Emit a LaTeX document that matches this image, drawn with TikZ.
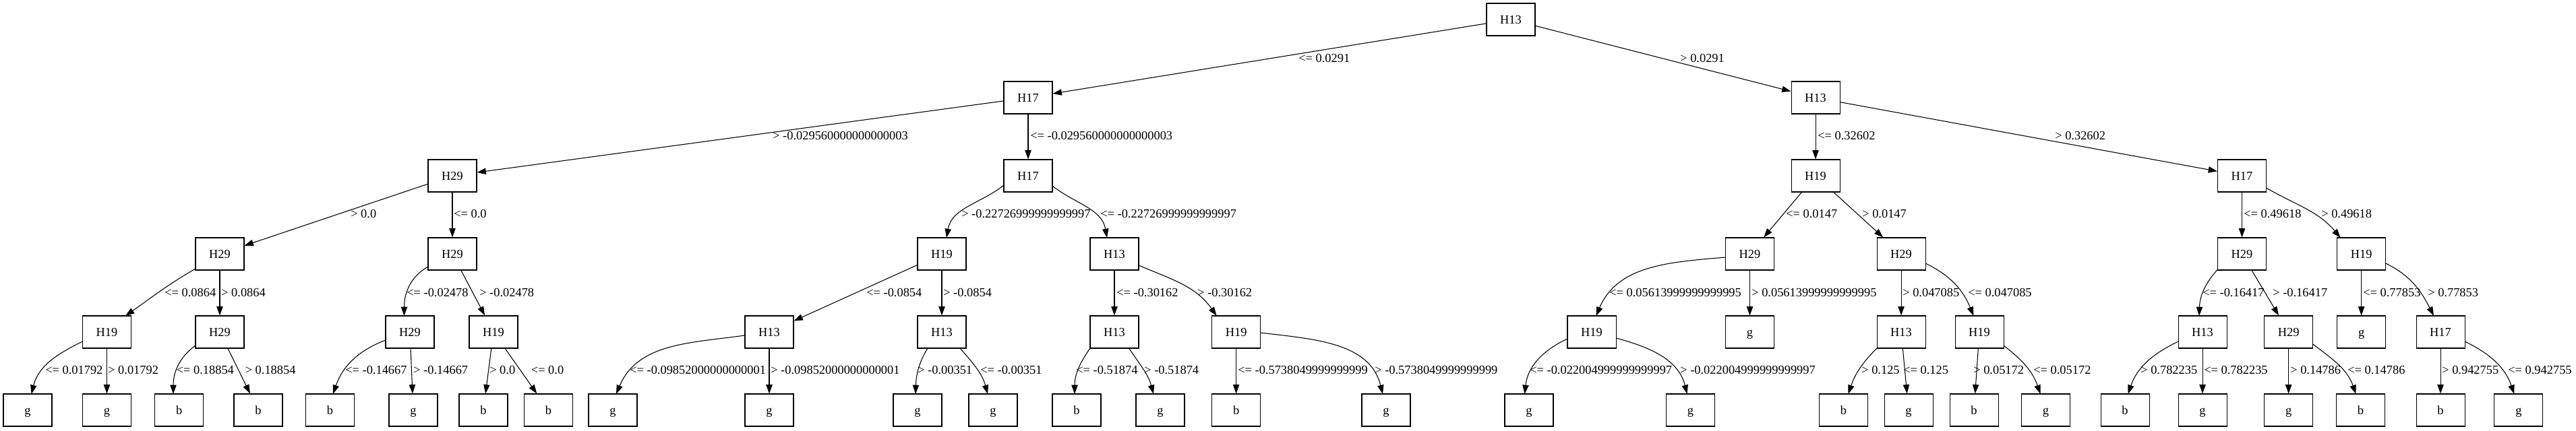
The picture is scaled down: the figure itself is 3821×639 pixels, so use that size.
\documentclass[tikz,border=0pt]{standalone}
\usepackage{fontspec}
\setmainfont{Liberation Serif}
\usetikzlibrary{arrows.meta,calc}
\newcommand{\cedge}[6]{\draw[conn] ($(#1)+(#2)$) to[out=#3,in=#4] ($(#5)+(#6)$);}
\begin{document}
\begin{tikzpicture}[x=0.75pt,y=-0.75pt,
  tbox/.style={draw, line width=0.8pt, rectangle, minimum width=54pt, minimum height=36pt, inner sep=0pt, text height=9.2pt, text depth=0pt, font=\fontsize{13.8}{17}\selectfont},
  lbl/.style={anchor=base west, inner sep=0pt, font=\fontsize{13.8}{17}\selectfont},
  conn/.style={line width=0.8pt, -{Triangle[length=10pt,width=7pt]}}]
\useasboundingbox (0,0) rectangle (3821,639);
% level 1-3
\node[tbox] (n0) at (2241,29) {H13};
\node[tbox] (n1) at (1525,145) {H17};
\node[tbox] (n2) at (2693,145) {H13};
\node[tbox] (n3) at (671,261) {H29};
\node[tbox] (n4) at (1525,261) {H17};
\node[tbox] (n5) at (2693,261) {H19};
\node[tbox] (n6) at (3325.5,261) {H17};
% level 4
\node[tbox] (n7) at (326,377) {H29};
\node[tbox] (n8) at (671,377) {H29};
\node[tbox] (n9) at (1397,377) {H19};
\node[tbox] (n10) at (1653,377) {H13};
\node[tbox] (n11) at (2595.5,377) {H29};
\node[tbox] (n12) at (2820,377) {H29};
\node[tbox] (n13) at (3325.5,377) {H29};
\node[tbox] (n14) at (3502.6,377) {H19};
% level 5
\node[tbox] (n15) at (158.5,493) {H19};
\node[tbox] (n16) at (326,493) {H29};
\node[tbox] (n17) at (608,493) {H29};
\node[tbox] (n18) at (732,493) {H19};
\node[tbox] (n19) at (1141,493) {H13};
\node[tbox] (n20) at (1397,493) {H13};
\node[tbox] (n21) at (1653,493) {H13};
\node[tbox] (n22) at (1833.6,493) {H19};
\node[tbox] (n23) at (2361,493) {H19};
\node[tbox] (n24) at (2595.5,493) {g};
\node[tbox] (n25) at (2820,493) {H13};
\node[tbox] (n26) at (2936,493) {H19};
\node[tbox] (n27) at (3267,493) {H13};
\node[tbox] (n28) at (3394.6,493) {H29};
\node[tbox] (n29) at (3502.6,493) {g};
\node[tbox] (n30) at (3620,493) {H17};
% leaves
\node[tbox] (l1) at (41,609) {g};
\node[tbox] (l2) at (158.5,609) {g};
\node[tbox] (l3) at (265.6,609) {b};
\node[tbox] (l4) at (383,609) {b};
\node[tbox] (l5) at (489.5,609) {b};
\node[tbox] (l6) at (613,609) {g};
\node[tbox] (l7) at (717,609) {b};
\node[tbox] (l8) at (813.5,609) {b};
\node[tbox] (l9) at (909,609) {g};
\node[tbox] (l10) at (1141,609) {g};
\node[tbox] (l11) at (1361,609) {g};
\node[tbox] (l12) at (1473,609) {g};
\node[tbox] (l13) at (1597,609) {b};
\node[tbox] (l14) at (1721,609) {g};
\node[tbox] (l15) at (1833.6,609) {b};
\node[tbox] (l16) at (2056,609) {g};
\node[tbox] (l17) at (2268,609) {g};
\node[tbox] (l18) at (2507.5,609) {g};
\node[tbox] (l19) at (2734.5,609) {b};
\node[tbox] (l20) at (2831,609) {g};
\node[tbox] (l21) at (2928,609) {b};
\node[tbox] (l22) at (3034.5,609) {g};
\node[tbox] (l23) at (3152,609) {b};
\node[tbox] (l24) at (3267,609) {g};
\node[tbox] (l25) at (3394.6,609) {g};
\node[tbox] (l26) at (3501.4,609) {b};
\node[tbox] (l27) at (3620,609) {b};
\node[tbox] (l28) at (3735.8,609) {g};
% straight connectors
\foreach \a/\b in {n0/n1,n0/n2,n1/n3,n1/n4,n2/n5,n2/n6,n3/n7,n3/n8,n5/n11,n5/n12,n6/n13,n7/n16,n8/n18,n9/n19,n9/n20,n10/n21,n11/n24,n12/n25,n13/n28,n14/n29,n15/l2,n16/l4,n17/l6,n18/l7,n18/l8,n19/l10,n22/l15,n25/l20,n26/l21,n27/l24,n28/l25,n30/l27}
  {\draw[conn] (\a) -- (\b);}
% curved connectors
\cedge{n4}{-36,14}{218}{80}{n9}{7,-24}
\cedge{n4}{36,15}{-38}{100}{n10}{-11,-24}
\cedge{n6}{36,18}{-30}{130}{n14}{-31,-24}
\cedge{n7}{-36,22}{210}{35}{n15}{27.5,-24}
\cedge{n8}{-36,19}{209}{90}{n17}{-8.5,-24}
\cedge{n10}{36,17}{-23}{125}{n22}{-29,-24}
\cedge{n11}{-36,5}{185}{67}{n23}{6.5,-24}
\cedge{n12}{36,14}{-26}{112}{n26}{-8.6,-24}
\cedge{n13}{-36,23}{228}{88}{n27}{-5,-24}
\cedge{n14}{36,14}{-26}{117}{n30}{-10,-24}
\cedge{n15}{-36,14}{206}{76}{l1}{5.6,-24}
\cedge{n16}{-36,20}{216}{90}{l3}{-8.6,-24}
\cedge{n17}{-36,12}{201}{71}{l5}{4.5,-24}
\cedge{n19}{-36,5}{188}{67}{l9}{5,-24}
\cedge{n20}{-21,24}{239}{88}{l11}{-3,-24}
\cedge{n20}{27,24}{-49}{105}{l12}{-8,-24}
\cedge{n21}{-36,24}{235}{90}{l13}{-3,-24}
\cedge{n21}{21.5,24}{-56}{105}{l14}{-10,-24}
\cedge{n22}{36,1}{-7}{104}{l16}{-5,-24}
\cedge{n23}{-36,10}{205}{84}{l17}{-6.4,-24}
\cedge{n23}{36,9}{-15}{104}{l18}{-5,-24}
\cedge{n25}{-36,24}{225}{71}{l19}{7,-24}
\cedge{n26}{36,20}{-38}{109}{l22}{-8,-24}
\cedge{n27}{-36,14}{206}{71}{l23}{4.5,-24}
\cedge{n28}{36,18}{-37}{109}{l26}{-7,-24}
\cedge{n30}{36,14}{-26}{109}{l28}{-6.5,-24}
% labels
\node[lbl] (t1) at (1926,92.5) {<= 0.0291};
\node[lbl] (t2) at (2492,92.5) {> 0.0291};
\node[lbl] (t3) at (1146,207.5) {> -0.029560000000000003};
\node[lbl] (t4) at (1528,207.5) {<= -0.029560000000000003};
\node[lbl] (t7) at (2696,207.5) {<= 0.32602};
\node[lbl] (t8) at (3048,207.5) {> 0.32602};
\node[lbl] (t9) at (520,323.5) {> 0.0};
\node[lbl] (t10) at (673,323.5) {<= 0.0};
\node[lbl] (t5) at (1426,323.5) {> -0.22726999999999997};
\node[lbl] (t6) at (1632,323.5) {<= -0.22726999999999997};
\node[lbl] (t11) at (2649,323.5) {<= 0.0147};
\node[lbl] (t12) at (2762,323.5) {> 0.0147};
\node[lbl] (t13) at (3328,323.5) {<= 0.49618};
\node[lbl] (t14) at (3443,323.5) {> 0.49618};
\node[lbl] (t15) at (244,440) {<= 0.0864};
\node[lbl] (t16) at (328,440) {> 0.0864};
\node[lbl] (t17) at (603,440) {<= -0.02478};
\node[lbl] (t18) at (711,440) {> -0.02478};
\node[lbl] (t19) at (1285,440) {<= -0.0854};
\node[lbl] (t20) at (1399,440) {> -0.0854};
\node[lbl] (t21) at (1656,440) {<= -0.30162};
\node[lbl] (t22) at (1776,440) {> -0.30162};
\node[lbl] (t23) at (2387,440) {<= 0.05613999999999995};
\node[lbl] (t24) at (2598,440) {> 0.05613999999999995};
\node[lbl] (t25) at (2822,440) {> 0.047085};
\node[lbl] (t26) at (2919,440) {<= 0.047085};
\node[lbl] (t27) at (3267,440) {<= -0.16417};
\node[lbl] (t28) at (3371,440) {> -0.16417};
\node[lbl] (t29) at (3505,440) {<= 0.77853};
\node[lbl] (t30) at (3601,440) {> 0.77853};
\node[lbl] (t31) at (67,555.7) {<= 0.01792};
\node[lbl] (t32) at (160,555.7) {> 0.01792};
\node[lbl] (t33) at (261.5,555.7) {<= 0.18854};
\node[lbl] (t34) at (363.5,555.7) {> 0.18854};
\node[lbl] (t35) at (512,555.7) {<= -0.14667};
\node[lbl] (t36) at (613,555.7) {> -0.14667};
\node[lbl] (t37) at (726,555.7) {> 0.0};
\node[lbl] (t38) at (787.6,555.7) {<= 0.0};
\node[lbl] (t39) at (934,555.7) {<= -0.09852000000000001};
\node[lbl] (t40) at (1143,555.7) {> -0.09852000000000001};
\node[lbl] (t41) at (1361,555.7) {> -0.00351};
\node[lbl] (t42) at (1454,555.7) {<= -0.00351};
\node[lbl] (t43) at (1596,555.7) {<= -0.51874};
\node[lbl] (t44) at (1697,555.7) {> -0.51874};
\node[lbl] (t45) at (1836,555.7) {<= -0.5738049999999999};
\node[lbl] (t46) at (2039,555.7) {> -0.5738049999999999};
\node[lbl] (t47) at (2269,555.7) {<= -0.022004999999999997};
\node[lbl] (t48) at (2492,555.7) {> -0.022004999999999997};
\node[lbl] (t49) at (2761,555.7) {> 0.125};
\node[lbl] (t50) at (2823,555.7) {<= 0.125};
\node[lbl] (t51) at (2927,555.7) {> 0.05172};
\node[lbl] (t52) at (3016,555.7) {<= 0.05172};
\node[lbl] (t53) at (3175,555.7) {> 0.782235};
\node[lbl] (t54) at (3269,555.7) {<= 0.782235};
\node[lbl] (t55) at (3397,555.7) {> 0.14786};
\node[lbl] (t56) at (3482,555.7) {<= 0.14786};
\node[lbl] (t57) at (3622,555.7) {> 0.942755};
\node[lbl] (t58) at (3720,555.7) {<= 0.942755};
\end{tikzpicture}
\end{document}
